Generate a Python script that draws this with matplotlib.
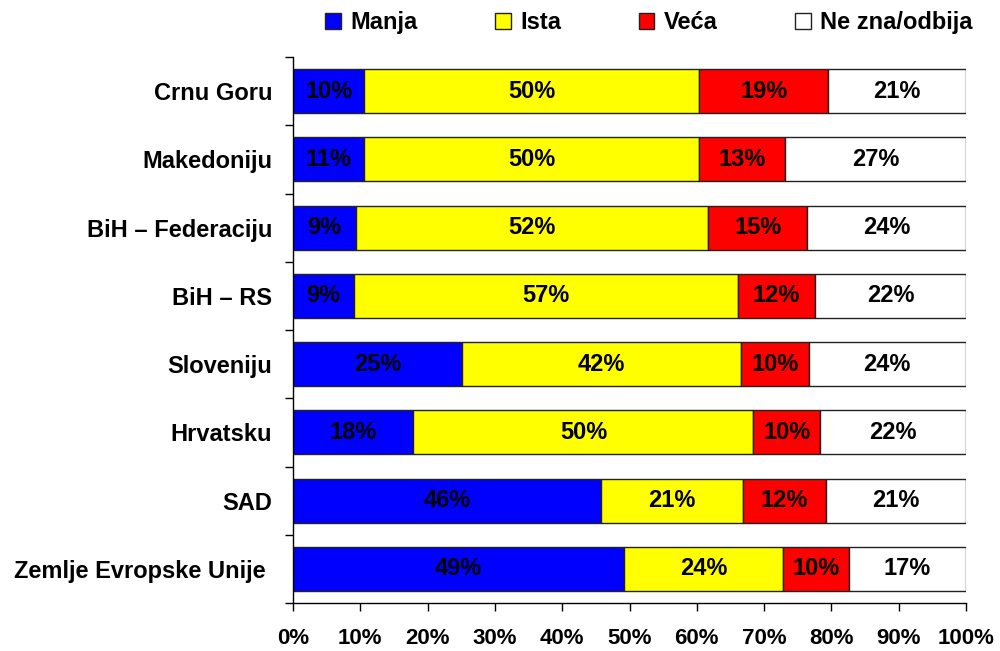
import matplotlib
matplotlib.use("Agg")
import matplotlib.pyplot as plt
import numpy as np

categories = ["Crnu Goru", "Makedoniju", "BiH – Federaciju", "BiH – RS",
              "Sloveniju", "Hrvatsku", "SAD", "Zemlje Evropske Unije "]
series_names = ["Manja", "Ista", "Veća", "Ne zna/odbija"]
manja = [10.6, 10.6, 9.3, 9.1, 25.1, 17.9, 45.8, 49.2]
ista = [49.8, 49.8, 52.4, 57.0, 41.5, 50.5, 21.0, 23.6]
veca = [19.1, 12.7, 14.7, 11.5, 10.0, 9.9, 12.4, 9.8]
ne_zna = [20.5, 26.9, 23.6, 22.4, 23.4, 21.7, 20.8, 17.4]
labels_manja = [10, 11, 9, 9, 25, 18, 46, 49]
labels_ista = [50, 50, 52, 57, 42, 50, 21, 24]
labels_veca = [19, 13, 15, 12, 10, 10, 12, 10]
labels_ne_zna = [21, 27, 24, 22, 24, 22, 21, 17]
xticks = [0, 10, 20, 30, 40, 50, 60, 70, 80, 90, 100]

colors = ["#0000FF", "#FFFF00", "#FF0000", "#FFFFFF"]

plt.rcParams["font.family"] = ["Liberation Sans", "DejaVu Sans"]

fig = plt.figure(figsize=(10, 6.51), dpi=100)
ax = fig.add_axes([0.293, 0.0737, 0.673, 0.8387])

series = [manja, ista, veca, ne_zna]
labels = [labels_manja, labels_ista, labels_veca, labels_ne_zna]
y = np.arange(len(categories))
left = np.zeros(len(categories))
handles = []
for vals, labs, col, name in zip(series, labels, colors, series_names):
    vals = np.array(vals)
    b = ax.barh(y, vals, left=left, height=0.645, color=col,
                edgecolor="#222222", linewidth=1.0, label=name)
    handles.append(b)
    for yi, l, v, lab in zip(y, left, vals, labs):
        ax.text(l + v / 2, yi, f"{lab}%", ha="center", va="center",
                fontsize=17, fontweight="bold", color="black")
    left = left + vals

ax.set_xlim(0, 100)
ax.set_ylim(len(categories) - 0.5, -0.5)
ax.set_xticks(xticks)
ax.set_xticklabels([f"{t}%" for t in xticks], fontsize=16, fontweight="bold")
ax.set_yticks(y)
ax.set_yticklabels(categories, fontsize=17, fontweight="bold")
ax.set_yticks(np.arange(len(categories) + 1) - 0.5, minor=True)
ax.tick_params(axis="y", which="major", length=0, pad=15)
ax.tick_params(axis="y", which="minor", length=6, width=1, direction="out")
ax.tick_params(axis="x", which="major", length=6, width=1, direction="out", pad=12)
for s in ["top", "right"]:
    ax.spines[s].set_visible(False)
ax.spines["left"].set_linewidth(1)
ax.spines["bottom"].set_linewidth(1)

leg = fig.legend(handles=handles, labels=series_names, loc="center",
                 bbox_to_anchor=(0.649, 0.9654), ncol=4, frameon=False,
                 handlelength=0.65, handleheight=0.65, handletextpad=0.4,
                 columnspacing=3.3, prop={"size": 17, "weight": "bold"})

fig.savefig("out.png", dpi=100)
